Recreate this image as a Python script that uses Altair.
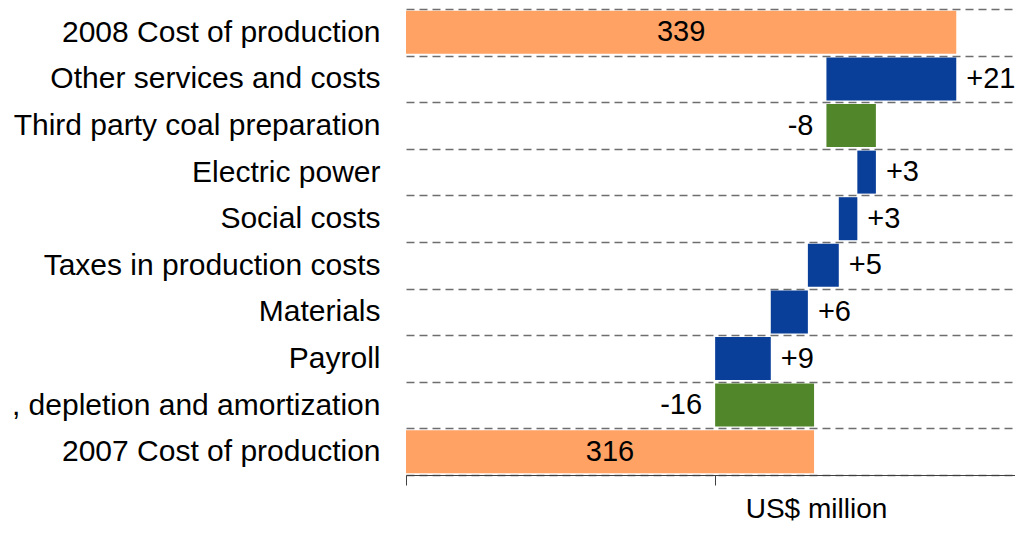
import altair as alt
import pandas as pd

# Data (top to bottom as shown)
categories = [
    "2008 Cost of production",
    "Other services and costs",
    "Third party coal preparation",
    "Electric power",
    "Social costs",
    "Taxes in production costs",
    "Materials",
    "Payroll",
    ", depletion and amortization ",
    "2007 Cost of production",
]
values = [339, 21, -8, 3, 3, 5, 6, 9, -16, 316]
kinds = ["total", "delta", "delta", "delta", "delta", "delta", "delta", "delta", "delta", "total"]

AXIS_MIN = 250
AXIS_MAX = 348.5

# Build waterfall table (cumulative from the bottom)
rows = []
running = None
for cat, val, kind in reversed(list(zip(categories, values, kinds))):
    if kind == "total":
        start, end = 0, val
        running = val
        label = str(val)
        lx = (AXIS_MIN + val) / 2
        side = "mid"
    else:
        start, end = running, running + val
        running = end
        label = ("+" if val > 0 else "") + str(val)
        if val > 0:
            lx, side = max(start, end), "right"
        else:
            lx, side = min(start, end), "left"
    rows.append(dict(cat=cat, start=start, end=end, kind=kind if kind == "total" else ("up" if val > 0 else "down"),
                     label=label, lx=lx, side=side))
df = pd.DataFrame(rows)

FONT = "Liberation Sans"

y_enc = alt.Y(
    "cat:N",
    sort=categories,
    scale=alt.Scale(paddingInner=0, paddingOuter=0),
    axis=alt.Axis(
        title=None,
        grid=True,
        tickBand="extent",
        gridDash=[8, 5],
        gridColor="#6e6e6e",
        gridWidth=1.5,
        domain=False,
        ticks=False,
        labelFont=FONT,
        labelFontSize=30,
        labelColor="black",
        labelPadding=26,
        labelLimit=0,
    ),
)

x_scale = alt.Scale(domain=[AXIS_MIN, AXIS_MAX], nice=False, zero=False)

base = alt.Chart(df)

bars = base.mark_bar(size=43, clip=True).encode(
    x=alt.X(
        "start:Q",
        scale=x_scale,
        axis=alt.Axis(
            values=[250, 300],
            labels=False,
            grid=False,
            tickSize=10,
            tickColor="#404040",
            domainColor="#404040",
            domainWidth=1.2,
            title="US$ million",
            titleFont=FONT,
            titleFontSize=28,
            titleFontWeight="normal",
            titleColor="black",
            titleX=410,
            titleY=42,
            titleAlign="center",
            titleBaseline="alphabetic",
        ),
    ),
    x2="end:Q",
    y=y_enc,
    color=alt.Color(
        "kind:N",
        scale=alt.Scale(domain=["total", "up", "down"], range=["#FFA263", "#0A3F99", "#52862A"]),
        legend=None,
    ),
)

text_common = dict(font=FONT, fontSize=29, baseline="middle", color="black")

t_mid = base.transform_filter(alt.datum.side == "mid").mark_text(align="center", **text_common).encode(
    x=alt.X("lx:Q", scale=x_scale), y=alt.Y("cat:N", sort=categories), text="label:N"
)
t_right = base.transform_filter(alt.datum.side == "right").mark_text(align="left", dx=10, **text_common).encode(
    x=alt.X("lx:Q", scale=x_scale), y=alt.Y("cat:N", sort=categories), text="label:N"
)
t_left = base.transform_filter(alt.datum.side == "left").mark_text(align="right", dx=-13, **text_common).encode(
    x=alt.X("lx:Q", scale=x_scale), y=alt.Y("cat:N", sort=categories), text="label:N"
)

chart = (
    alt.layer(bars, t_mid, t_right, t_left)
    .properties(
        width=609,
        height=466,
        autosize=alt.AutoSizeParams(type="none"),
        padding={"left": 398, "top": 1, "right": 0, "bottom": 50},
    )
    .configure_view(stroke=None)
)

chart.save("out.html", embed_options={"renderer": "svg", "actions": False})
